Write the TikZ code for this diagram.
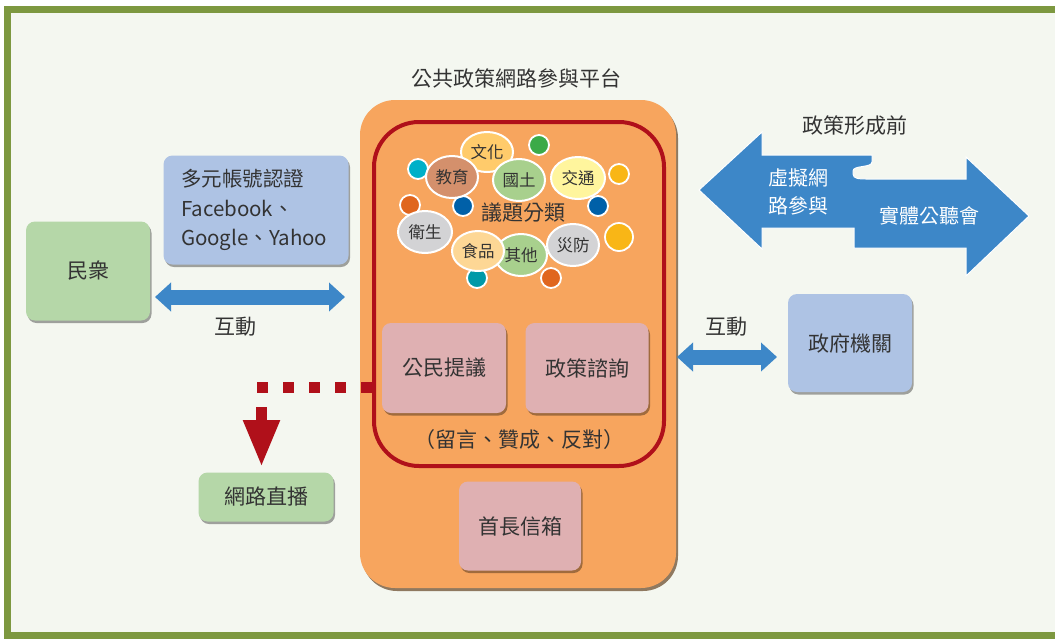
\documentclass[tikz,border=0pt]{standalone}
\usepackage{fontspec}
\setmainfont{Noto Sans CJK TC}
\usepackage{tikz}
\usetikzlibrary{shapes.geometric,arrows.meta,shadows}
\definecolor{framegreen}{RGB}{125,152,64}
\definecolor{paper}{RGB}{244,247,240}
\definecolor{platorange}{RGB}{247,165,94}
\definecolor{rimred}{RGB}{176,16,26}
\definecolor{boxpink}{RGB}{223,176,178}
\definecolor{boxblue}{RGB}{174,195,228}
\definecolor{boxgreen}{RGB}{181,215,168}
\definecolor{arrowblue}{RGB}{61,135,200}
\definecolor{inkgray}{RGB}{51,51,51}
\definecolor{bubyellow}{RGB}{255,203,107}
\definecolor{bubbrown}{RGB}{212,144,108}
\definecolor{bubgreen}{RGB}{168,208,141}
\definecolor{bublemon}{RGB}{255,245,157}
\definecolor{bubgray}{RGB}{211,211,213}
\definecolor{bubpeach}{RGB}{253,215,149}
\definecolor{dotgreen}{RGB}{59,170,72}
\definecolor{dotcyan}{RGB}{0,176,200}
\definecolor{dotteal}{RGB}{0,153,168}
\definecolor{dotorange}{RGB}{224,102,30}
\definecolor{dotblue}{RGB}{0,96,168}
\definecolor{dotgold}{RGB}{249,182,22}
\tikzset{
    box/.style={rectangle, rounded corners=9pt, inner sep=0pt, text=inkgray,
    	font=\fontsize{21}{24}\selectfont,
    	drop shadow={shadow xshift=1.5pt, shadow yshift=-2.5pt, fill=black, opacity=.35}}
}
\tikzset{
    bubble/.style={ellipse, draw=white, line width=2pt, inner sep=0pt,
    	minimum width=52pt, minimum height=42pt, text=inkgray,
    	font=\fontsize{16.5}{18}\selectfont}
}
\tikzset{
    dot/.style={circle, draw=white, line width=1.8pt, inner sep=0pt, minimum size=20pt}
}
\tikzset{
    label text/.style={text=inkgray, font=\fontsize{21}{24}\selectfont}
}
\tikzset{
    blue link/.style={arrowblue, line width=15pt,
    	{Triangle[width=28pt,length=16pt]}-{Triangle[width=28pt,length=16pt]}}
}

\begin{document}
\begin{tikzpicture}[x=1pt, y=-1pt]
	\useasboundingbox (0,0) rectangle (1055,638);
	\fill[white] (0,0) rectangle (1055,638);
	\fill[paper] (11,13) rectangle (1055,632);
	\draw[framegreen, line width=7pt] (1055,9) -- (7.5,9) -- (7.5,635) -- (1055,635);

	% platform
	\node (title) [label text] at (516,78) {公共政策網路參與平台};
	\node (plat) [rectangle, rounded corners=35pt, fill=platorange, minimum width=316pt,
		minimum height=488pt,
		drop shadow={shadow xshift=2pt, shadow yshift=-3pt, fill=black!70!orange, opacity=.6}]
		at (518,344) {};
	\node (rim) [rectangle, rounded corners=45pt, draw=rimred, line width=4pt,
		minimum width=290pt, minimum height=344pt] at (519,294) {};

	% topic bubbles
	\node (d1) [dot, fill=dotgreen] at (539,145) {};
	\node (d2) [dot, fill=dotcyan] at (418,169) {};
	\node (d3) [dot, fill=dotorange] at (410,205) {};
	\node (d4) [dot, fill=dotblue] at (463,206) {};
	\node (d5) [dot, fill=dotgold] at (619,174) {};
	\node (d6) [dot, fill=dotblue] at (598,206) {};
	\node (d7) [dot, fill=dotgold, minimum size=28pt] at (619,237) {};
	\node (d8) [dot, fill=dotteal] at (477,278) {};
	\node (d9) [dot, fill=dotorange] at (551,278) {};
	\node (culture) [bubble, fill=bubyellow, minimum height=40pt] at (487,152) {文化};
	\node (edu) [bubble, fill=bubbrown] at (452,177) {教育};
	\node (land) [bubble, fill=bubgreen] at (519,180) {國土};
	\node (traffic) [bubble, fill=bublemon, minimum width=54pt] at (578,178) {交通};
	\node (topics) [label text] at (523,213) {議題分類};
	\node (health) [bubble, fill=bubgray, minimum width=54pt] at (425,232) {衛生};
	\node (disaster) [bubble, fill=bubgray] at (573,245) {災防};
	\node (other) [bubble, fill=bubgreen] at (521,255) {其他};
	\node (food) [bubble, fill=bubpeach, minimum height=40pt] at (478,251) {食品};

	% services
	\node (propose) [box, fill=boxpink, minimum width=124pt, minimum height=90pt] at (444,368) {公民提議};
	\node (consult) [box, fill=boxpink, minimum width=123pt, minimum height=90pt] at (587,368) {政策諮詢};
	\node (actions) [label text] at (519,440) {（留言、贊成、反對）};
	\node (mailbox) [box, fill=boxpink, minimum width=122pt, minimum height=89pt] at (520,526) {首長信箱};

	% left side
	\node (login) [box, fill=boxblue, minimum width=185pt, minimum height=109pt,
		text width=150pt, align=left, font=\fontsize{20.5}{29.5}\selectfont] at (256,210)
		{多元帳號認證\\Facebook、\\Google、Yahoo};
	\node (people) [box, fill=boxgreen, minimum width=124pt, minimum height=99pt] at (88,271) {民衆};
	\node (live) [box, fill=boxgreen, minimum width=135pt, minimum height=49pt] at (266,497) {網路直播};
	\node (talk1) [label text] at (235,327) {互動};
	\coordinate (p1) at (155,297);
	\coordinate (p2) at (345,297);
	\draw[blue link] (p1) -- (p2);

	\coordinate (r1) at (257,387);
	\coordinate (r2) at (372,387);
	\coordinate (r3) at (261.5,407);
	\coordinate (r4) at (261.5,467);
	\draw[rimred, line width=11pt, dash pattern=on 11pt off 15pt] (r1) -- (r2);
	\draw[rimred, line width=11pt, -{Triangle[width=34pt,length=47pt]}] (r3) -- (r4);

	% right side
	\node (gov) [box, fill=boxblue, minimum width=124pt, minimum height=98pt] at (850,343) {政府機關};
	\node (talk2) [label text] at (726,327) {互動};
	\coordinate (g1) at (677,357);
	\coordinate (g2) at (777,357);
	\draw[blue link] (g1) -- (g2);

	\node (before) [label text] at (855,126) {政策形成前};
	\fill[arrowblue, draw=white, line width=1pt] (699,190) -- (762,132) -- (762,155) -- (872,155)
		-- (872,162) .. controls (872,168) and (853,165) .. (853,171) -- (853,174)
		.. controls (853,179) and (860,179) .. (866,179) -- (966,179) -- (966,157)
		-- (1029,216) -- (966,276) -- (966,248) -- (854,248) -- (854,228) -- (762,228)
		-- (762,249) -- cycle;
	\node (online) [text=white, align=center, font=\fontsize{20}{28}\selectfont] at (798,192) {虛擬網\\路參與};
	\node (hearing) [text=white, font=\fontsize{20}{24}\selectfont] at (929,216) {實體公聽會};
\end{tikzpicture}
\end{document}
